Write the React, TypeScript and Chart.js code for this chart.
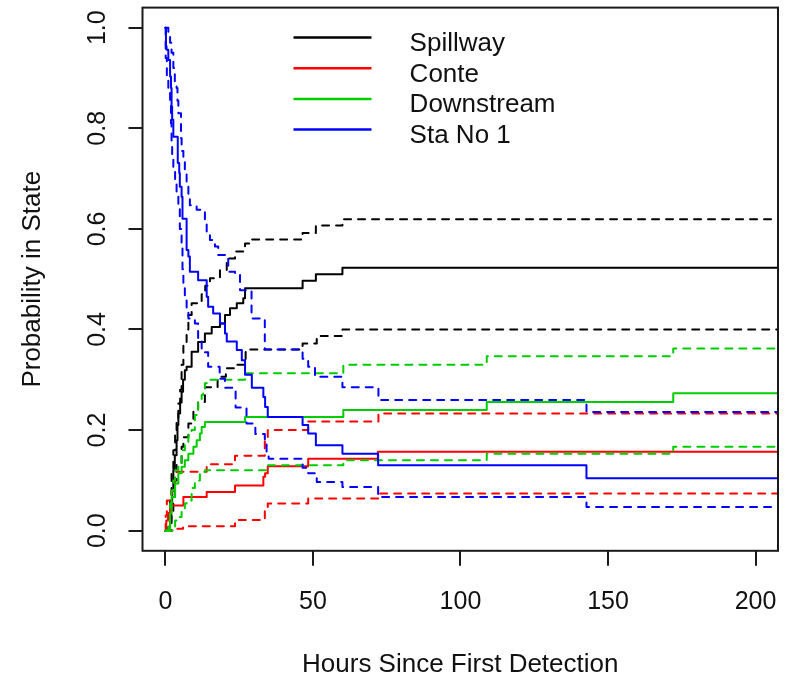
import React, { useEffect, useRef } from "react";
import { Chart, registerables } from "chart.js";

Chart.register(...registerables);

// ---- axis / label data ----
const xTicks = [0, 50, 100, 150, 200];
const yTicks = [0, 0.2, 0.4, 0.6, 0.8, 1.0];
const xTitle = "Hours Since First Detection";
const yTitle = "Probability in State";
const legendLabels = ["Spillway", "Conte", "Downstream", "Sta No 1"];
const stateColors = ["#000000", "#FF0000", "#00CD00", "#0000FF"];
const followUpEnd = 210;

// ---- Spillway ----
const spillwayEstT = [0, 1.0, 1.6, 2.0, 2.3, 2.7, 3.2, 3.8, 4.1, 4.4, 5.0, 5.5, 6.0, 6.6, 7.2, 8.9, 11.1, 13.4, 15.7, 18.5, 20.2, 21.9, 24.2, 26.4, 27.0, 46.5, 51.0, 60.0];
const spillwayEstV = [0, 0.007, 0.02, 0.05, 0.08, 0.12, 0.15, 0.18, 0.21, 0.233, 0.255, 0.276, 0.3, 0.319, 0.326, 0.356, 0.375, 0.392, 0.405, 0.412, 0.429, 0.442, 0.452, 0.462, 0.482, 0.497, 0.51, 0.523];
const spillwayHiT = [0, 1.0, 1.6, 2.1, 2.7, 3.3, 3.8, 4.4, 5.0, 5.5, 6.1, 7.2, 7.8, 8.9, 12.3, 13.5, 15.1, 18.5, 20.8, 23.6, 27.0, 28.7, 46.5, 51.0, 60.0];
const spillwayHiV = [0, 0.03, 0.06, 0.12, 0.16, 0.193, 0.22, 0.253, 0.28, 0.33, 0.37, 0.4, 0.429, 0.452, 0.47, 0.487, 0.502, 0.518, 0.541, 0.555, 0.571, 0.579, 0.592, 0.607, 0.619];
const spillwayLoT = [0, 2.1, 2.7, 3.2, 3.8, 5.5, 6.1, 7.8, 9.5, 11.1, 13.4, 17.7, 20.5, 23.8, 27.2, 46.5, 51.3, 60.0];
const spillwayLoV = [0, 0.03, 0.067, 0.1, 0.134, 0.167, 0.186, 0.213, 0.24, 0.256, 0.285, 0.306, 0.323, 0.33, 0.36, 0.372, 0.387, 0.4];

// ---- Conte ----
const conteEstT = [0, 0.3, 1.0, 1.6, 6.1, 14.0, 23.6, 33.2, 33.8, 34.7, 48.4, 72.0];
const conteEstV = [0, 0.02, 0.035, 0.05, 0.067, 0.077, 0.09, 0.107, 0.114, 0.128, 0.143, 0.157];
const conteHiT = [0, 0.1, 0.5, 2.1, 3.3, 14.0, 23.6, 33.7, 34.7, 48.4, 72.2];
const conteHiV = [0, 0.03, 0.06, 0.08, 0.117, 0.132, 0.149, 0.18, 0.2, 0.217, 0.233];
const conteLoT = [0, 4.0, 6.0, 23.6, 33.7, 34.7, 48.4, 72.2];
const conteLoV = [0, 0.004, 0.009, 0.021, 0.04, 0.054, 0.064, 0.074];

// ---- Downstream ----
const downEstT = [0, 1.6, 2.1, 3.3, 4.4, 5.5, 6.6, 7.8, 9.5, 10.6, 11.7, 12.3, 13.4, 27.0, 60.3, 108.9, 172.1];
const downEstV = [0, 0.034, 0.067, 0.094, 0.114, 0.127, 0.14, 0.153, 0.167, 0.18, 0.193, 0.206, 0.216, 0.226, 0.24, 0.256, 0.273];
const downHiT = [0, 1.0, 1.6, 2.1, 2.7, 3.3, 4.4, 5.5, 6.6, 7.8, 8.9, 10.0, 11.1, 12.3, 12.8, 13.4, 14.0, 27.0, 60.3, 108.9, 172.1];
const downHiV = [0, 0.02, 0.054, 0.08, 0.1, 0.12, 0.134, 0.16, 0.174, 0.19, 0.2, 0.23, 0.256, 0.27, 0.28, 0.293, 0.3, 0.313, 0.33, 0.347, 0.362];
const downLoT = [0, 3.3, 4.4, 5.5, 6.6, 7.2, 8.9, 10.0, 11.7, 13.4, 34.7, 60.3, 108.9, 172.1];
const downLoV = [0, 0.02, 0.027, 0.04, 0.054, 0.06, 0.085, 0.1, 0.114, 0.12, 0.13, 0.14, 0.153, 0.167];

// ---- Sta No 1 ----
const staEstT = [0, 0.2, 0.4, 1.0, 1.6, 1.9, 2.1, 2.3, 2.7, 4.2, 4.7, 4.9, 5.5, 5.8, 7.2, 7.8, 8.3, 11.1, 14.0, 14.5, 16.2, 18.5, 20.2, 20.8, 24.2, 25.9, 27.0, 29.3, 33.2, 33.8, 34.7, 46.5, 48.4, 51.0, 60.0, 72.1, 142.7];
const staEstV = [1.0, 0.963, 0.956, 0.936, 0.903, 0.88, 0.843, 0.817, 0.783, 0.731, 0.711, 0.684, 0.664, 0.62, 0.558, 0.545, 0.515, 0.498, 0.465, 0.445, 0.432, 0.412, 0.392, 0.376, 0.359, 0.339, 0.31, 0.284, 0.266, 0.246, 0.226, 0.21, 0.193, 0.17, 0.153, 0.13, 0.104];
const staHiT = [0, 1.0, 1.6, 2.1, 2.7, 3.2, 3.8, 4.1, 4.4, 5.3, 5.5, 6.1, 6.6, 7.2, 7.8, 8.3, 10.6, 13.4, 14.0, 15.1, 16.8, 17.9, 20.2, 21.3, 23.6, 25.3, 29.2, 33.7, 46.5, 48.4, 50.7, 60.0, 72.2, 142.7];
const staHiV = [1.0, 0.985, 0.97, 0.95, 0.92, 0.89, 0.88, 0.855, 0.83, 0.78, 0.755, 0.733, 0.71, 0.687, 0.663, 0.647, 0.638, 0.614, 0.594, 0.578, 0.565, 0.548, 0.542, 0.515, 0.512, 0.478, 0.422, 0.36, 0.342, 0.326, 0.306, 0.285, 0.26, 0.236];
const staLoT = [0, 0.1, 0.5, 1.0, 1.6, 1.9, 2.1, 2.3, 2.7, 3.3, 3.8, 4.4, 4.9, 5.5, 5.8, 6.1, 6.6, 7.2, 7.8, 10.0, 11.1, 12.3, 14.5, 18.4, 20.2, 23.8, 27.5, 30.5, 33.7, 34.3, 35.0, 46.5, 48.4, 51.3, 60.0, 72.1, 142.7];
const staLoV = [1.0, 0.94, 0.9, 0.875, 0.85, 0.81, 0.765, 0.745, 0.715, 0.693, 0.667, 0.65, 0.6, 0.565, 0.52, 0.49, 0.46, 0.435, 0.422, 0.412, 0.38, 0.355, 0.326, 0.302, 0.284, 0.245, 0.213, 0.192, 0.178, 0.157, 0.143, 0.125, 0.114, 0.097, 0.087, 0.067, 0.047];

const FONT = '"Liberation Sans", Arial, "DejaVu Sans", sans-serif';

function steps(t: number[], v: number[]) {
  const pts = t.map((x, i) => ({ x, y: v[i] }));
  pts.push({ x: followUpEnd, y: v[v.length - 1] });
  return pts;
}

const stateSeries = [
  { est: [spillwayEstT, spillwayEstV], lo: [spillwayLoT, spillwayLoV], hi: [spillwayHiT, spillwayHiV] },
  { est: [conteEstT, conteEstV], lo: [conteLoT, conteLoV], hi: [conteHiT, conteHiV] },
  { est: [downEstT, downEstV], lo: [downLoT, downLoV], hi: [downHiT, downHiV] },
  { est: [staEstT, staEstV], lo: [staLoT, staLoV], hi: [staHiT, staHiV] },
];

const rAxesPlugin = {
  id: "rAxes",
  afterDraw(chart: any) {
    const ctx = chart.ctx as CanvasRenderingContext2D;
    const { left, right, top, bottom } = chart.chartArea;
    const xs = chart.scales.x;
    const ys = chart.scales.y;
    ctx.save();
    // box
    ctx.strokeStyle = "#1a1a1a";
    ctx.lineWidth = 2;
    ctx.strokeRect(left, top, right - left, bottom - top);
    // ticks
    ctx.beginPath();
    xTicks.forEach((v) => {
      const px = Math.round(xs.getPixelForValue(v));
      ctx.moveTo(px, bottom);
      ctx.lineTo(px, bottom + 15);
    });
    yTicks.forEach((v) => {
      const py = Math.round(ys.getPixelForValue(v));
      ctx.moveTo(left, py);
      ctx.lineTo(left - 14, py);
    });
    ctx.stroke();
    // tick labels
    ctx.fillStyle = "#111111";
    ctx.font = `25px ${FONT}`;
    ctx.textAlign = "center";
    ctx.textBaseline = "alphabetic";
    xTicks.forEach((v) => {
      ctx.fillText(String(v), xs.getPixelForValue(v), 609);
    });
    yTicks.forEach((v) => {
      ctx.save();
      ctx.translate(105, ys.getPixelForValue(v));
      ctx.rotate(-Math.PI / 2);
      ctx.fillText(v.toFixed(1), 0, 0);
      ctx.restore();
    });
    // axis titles
    ctx.font = `26px ${FONT}`;
    ctx.fillText(xTitle, (left + right) / 2, 672);
    ctx.save();
    ctx.translate(40, (top + bottom) / 2);
    ctx.rotate(-Math.PI / 2);
    ctx.fillText(yTitle, 0, 0);
    ctx.restore();
    // legend
    ctx.textAlign = "left";
    legendLabels.forEach((lab, i) => {
      const ly = 37.5 + i * 30.7;
      ctx.beginPath();
      ctx.strokeStyle = stateColors[i];
      ctx.lineWidth = 2.5;
      ctx.moveTo(293.5, ly);
      ctx.lineTo(371.5, ly);
      ctx.stroke();
      ctx.fillStyle = "#111111";
      ctx.fillText(lab, 409.6, ly + 13.5);
    });
    ctx.restore();
  },
};

export default function App() {
  const ref = useRef<HTMLCanvasElement | null>(null);

  useEffect(() => {
    if (!ref.current) return;
    const datasets: any[] = [];
    stateSeries.forEach((s, i) => {
      const color = stateColors[i];
      const base = {
        borderColor: color,
        backgroundColor: color,
        borderWidth: 2,
        pointRadius: 0,
        stepped: true,
        fill: false,
        borderCapStyle: "round",
        borderJoinStyle: "round",
        order: stateSeries.length - i,
      };
      datasets.push({ ...base, label: legendLabels[i], data: steps(s.est[0], s.est[1]) });
      datasets.push({ ...base, label: legendLabels[i] + " lower", data: steps(s.lo[0], s.lo[1]), borderDash: [7, 7] });
      datasets.push({ ...base, label: legendLabels[i] + " upper", data: steps(s.hi[0], s.hi[1]), borderDash: [7, 7] });
    });

    const chart = new Chart(ref.current, {
      type: "line",
      data: { datasets },
      options: {
        animation: false,
        responsive: false,
        devicePixelRatio: 1,
        layout: { padding: { left: 142.5, right: 10, top: 7.6, bottom: 125.2 } },
        plugins: { legend: { display: false }, tooltip: { enabled: false } },
        scales: {
          x: { type: "linear", min: -7.75, max: 207.6, display: false },
          y: { type: "linear", min: -0.04, max: 1.04, display: false },
        },
      },
      plugins: [rAxesPlugin],
    } as any);
    return () => chart.destroy();
  }, []);

  return (
    <div style={{ position: "absolute", left: 0, top: 0, width: 788, height: 676, background: "#ffffff" }}>
      <canvas ref={ref} width={788} height={676} style={{ display: "block" }} />
    </div>
  );
}
